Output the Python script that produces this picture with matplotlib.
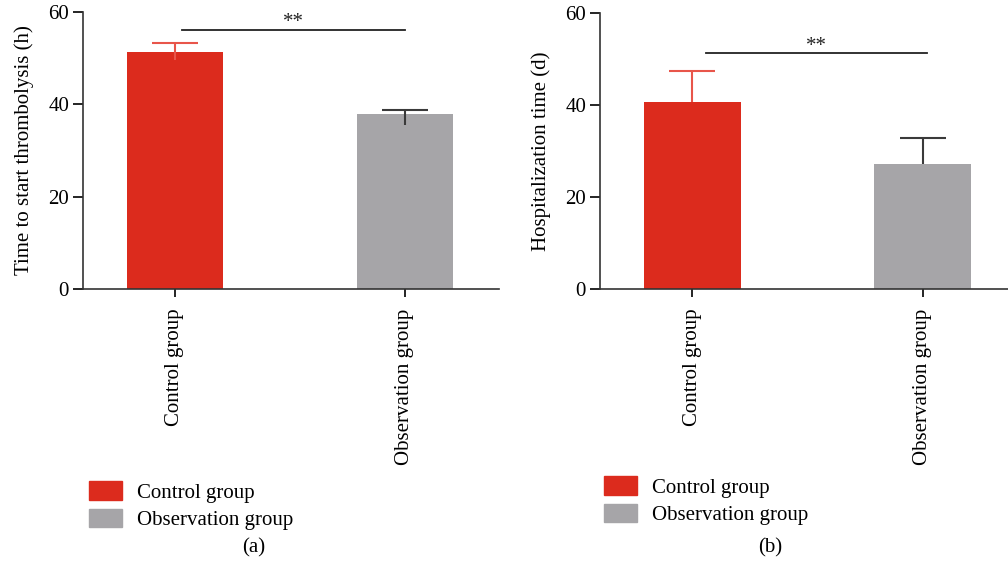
import matplotlib
matplotlib.use("Agg")
import matplotlib.pyplot as plt
from matplotlib.patches import Patch

plt.rcParams['font.family'] = ['Liberation Serif', 'DejaVu Serif']

groups = ['Control group', 'Observation group']
colors = ['#dc2b1d', '#a6a5a8']
err_colors = ['#e8554a', '#3a3a3a']

# panel (a): time to start thrombolysis (h)
thromb_mean = [51.4, 37.8]
thromb_err_low = [1.9, 2.2]
thromb_err_up = [1.9, 0.9]
thromb_sig_y = 56.2

# panel (b): hospitalization time (d)
hosp_mean = [40.6, 27.1]
hosp_err_low = [0.0, 0.0]
hosp_err_up = [6.7, 5.8]
hosp_sig_y = 51.3

yticks = [0, 20, 40, 60]

W, H = 1008, 572
fig = plt.figure(figsize=(W / 100, H / 100), dpi=100)


def px_axes(left, right, top, bottom):
    return fig.add_axes([left / W, 1 - bottom / H, (right - left) / W, (bottom - top) / H])


def draw_panel(ax, means, err_low, err_up, sig_y, sig_x, ylabel, xlim):
    x = [0, 1]
    ax.bar(x, means, width=0.42, color=colors, zorder=2)
    for i in range(2):
        # error bar: stem through the bar top, cap only on the upper end
        ax.vlines(x[i], means[i] - err_low[i], means[i] + err_up[i],
                  color=err_colors[i], lw=1.5, zorder=3)
        ax.hlines(means[i] + err_up[i], x[i] - 0.1, x[i] + 0.1,
                  color=err_colors[i], lw=1.5, zorder=3)
    ax.plot(sig_x, [sig_y, sig_y], color='#222222', lw=1.3)
    ax.text(sum(sig_x) / 2, sig_y - 0.6, '**', ha='center', va='bottom', fontsize=15, color='#222222')
    ax.set_xlim(*xlim)
    ax.set_ylim(0, 60)
    ax.set_yticks(yticks)
    ax.set_xticks(x)
    ax.set_xticklabels(groups, rotation=90, fontsize=15)
    ax.tick_params(axis='y', labelsize=15, length=7, width=1.2, pad=3)
    ax.tick_params(axis='x', length=6, width=1.2, pad=8)
    ax.set_ylabel(ylabel, fontsize=15, labelpad=10)
    for s in ['top', 'right']:
        ax.spines[s].set_visible(False)
    for s in ['left', 'bottom']:
        ax.spines[s].set_linewidth(1.2)
        ax.spines[s].set_color('#333333')


ax1 = px_axes(83, 499, 12, 289)
draw_panel(ax1, thromb_mean, thromb_err_low, thromb_err_up, thromb_sig_y, [0.03, 1.0],
           'Time to start thrombolysis (h)', (-0.40, 1.41))

ax2 = px_axes(600, 1008, 13, 289)
draw_panel(ax2, hosp_mean, hosp_err_low, hosp_err_up, hosp_sig_y, [0.06, 1.02],
           'Hospitalization time (d)', (-0.40, 1.37))

handles = [Patch(color=c) for c in colors]
leg_kw = dict(loc='upper left', frameon=False, fontsize=15, handlelength=1.55,
              handleheight=1.0, handletextpad=0.75, labelspacing=0.28, borderaxespad=0)
fig.legend(handles, groups, bbox_to_anchor=(81 / W, 1 - 473 / H), **leg_kw)
fig.legend(handles, groups, bbox_to_anchor=(596 / W, 1 - 468 / H), **leg_kw)

fig.text(254 / W, 1 - 548 / H, '(a)', ha='center', va='center', fontsize=15)
fig.text(770 / W, 1 - 548 / H, '(b)', ha='center', va='center', fontsize=15)

fig.savefig('out.png', dpi=100)
